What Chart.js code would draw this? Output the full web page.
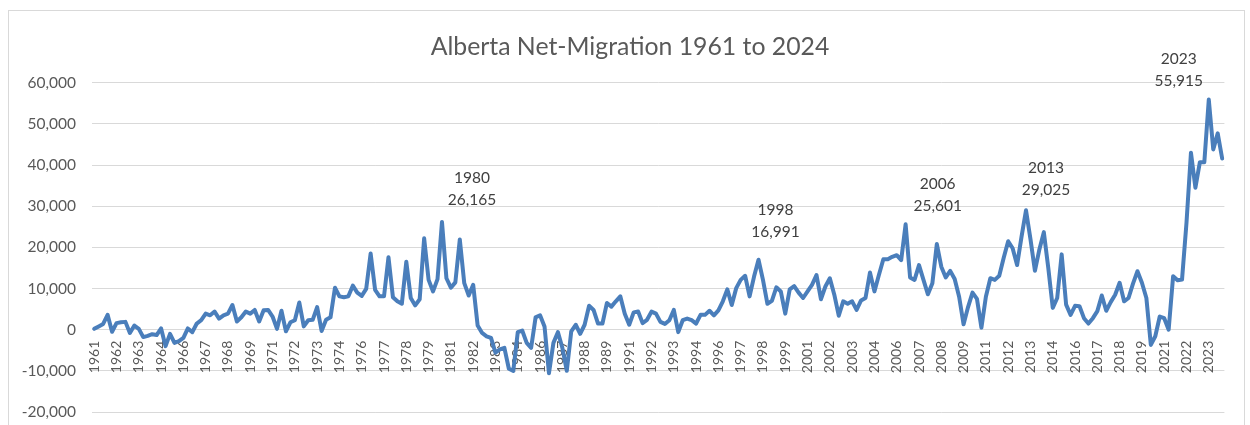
<!DOCTYPE html>
<html>
<head>
<meta charset="utf-8">
<script src="https://cdn.jsdelivr.net/npm/chart.js@4.4.1/dist/chart.umd.min.js"></script>
<style>
  html, body { margin: 0; padding: 0; background: #ffffff; }
  #wrap { width: 1250px; height: 425px; position: relative; }
  canvas { display: block; }
</style>
</head>
<body>
<div id="wrap"><canvas id="c" width="1250" height="425"></canvas></div>
<script>
// ---- Data (quarterly net migration, 1961 Q1 .. 2024 Q2) ----
const firstYear = 1961;
const netMigration = [
  200, 800, 1400, 3600,          // 1961
  -500, 1600, 1800, 1900,        // 1962
  -800, 1000, 200, -1800,        // 1963
  -1500, -1100, -1300, 300,      // 1964
  -4000, -1000, -3200, -2800,    // 1965
  -2000, 300, -600, 1500,        // 1966
  2300, 3900, 3500, 4400,        // 1967
  2700, 3500, 3900, 6000,        // 1968
  2000, 3000, 4400, 3900,        // 1969
  4800, 2000, 4700, 4800,        // 1970
  3200, 200, 4600, -400,         // 1971
  1800, 2300, 6600, 800,         // 1972
  2300, 2400, 5500, -300,        // 1973
  2400, 3000, 10200, 8100,       // 1974
  7900, 8100, 10700, 9000,       // 1975
  8200, 9900, 18500, 9700,       // 1976
  8100, 8100, 17600, 7900,       // 1977
  6900, 6300, 16500, 7700,       // 1978
  5900, 7400, 22200, 12100,      // 1979
  9300, 12300, 26165, 12500,     // 1980
  10200, 11500, 21900, 11300,    // 1981
  8300, 10900, 1000, -800,       // 1982
  -1600, -2000, -5600, -4800,    // 1983
  -4400, -9500, -10000, -600,    // 1984
  -200, -3200, -4400, 3000,      // 1985
  3500, 800, -10600, -3200,      // 1986
  -600, -4400, -10000, -400,     // 1987
  1200, -1000, 1200, 5800,       // 1988
  4800, 1500, 1500, 6500,        // 1989
  5600, 6900, 8100, 3900,        // 1990
  1200, 4200, 4400, 1600,        // 1991
  2400, 4400, 3900, 1900,        // 1992
  1400, 2300, 4800, -600,        // 1993
  2300, 2700, 2300, 1500,        // 1994
  3600, 3600, 4600, 3500,        // 1995
  4700, 6900, 9800, 6000,        // 1996
  10100, 12100, 13100, 8100,     // 1997
  12900, 16991, 12100, 6300,     // 1998
  7000, 10300, 9300, 3900,       // 1999
  9800, 10600, 9000, 7700,       // 2000
  9300, 10900, 13300, 7400,      // 2001
  10500, 12500, 8500, 3400,      // 2002
  6900, 6300, 6900, 4800,        // 2003
  7100, 7700, 13900, 9300,       // 2004
  13300, 17100, 17100, 17700,    // 2005
  18100, 16900, 25601, 12700,    // 2006
  12100, 15700, 12100, 8600,     // 2007
  11300, 20800, 15300, 12700,    // 2008
  14300, 12300, 8000, 1300,      // 2009
  5500, 9000, 7500, 500,         // 2010
  8000, 12500, 12100, 13100,     // 2011
  17500, 21500, 19800, 15700,    // 2012
  22600, 29025, 22000, 14300,    // 2013
  19500, 23700, 15000, 5300,     // 2014
  7700, 18300, 6100, 3600,       // 2015
  5800, 5700, 2800, 1500,        // 2016
  2800, 4500, 8300, 4600,        // 2017
  6700, 8500, 11400, 6900,       // 2018
  7700, 11200, 14200, 11400,     // 2019
  7700, -3700, -1600, 3200,      // 2020
  2800, 0, 13000, 12000,         // 2021
  12200, 26000, 43000, 34500,    // 2022
  40700, 40700, 55915, 43800,    // 2023
  47700, 41600                   // 2024
];
// category labels: the year of each quarter
const categories = netMigration.map((_, i) => String(firstYear + Math.floor(i / 4)));
// highlighted peaks (category index)
const peakIndices = [78, 149, 182, 209, 250];
const titleText = 'Alberta Net-Migration 1961 to 2024';
const yTicksMin = -20000, yTicksMax = 60000, yTickStep = 10000;
const xLabelEvery = 5;

const fmt = v => Number(v).toLocaleString('en-US');

const framePlugin = {
  id: 'frame',
  beforeDraw(chart) {
    const c = chart.ctx;
    c.save();
    c.fillStyle = '#ffffff';
    c.fillRect(0, 0, chart.width, chart.height);
    c.strokeStyle = '#d9d9d9';
    c.lineWidth = 1;
    c.strokeRect(8.5, 10.5, 1236, 430);
    c.restore();
  }
};

const peakNotesPlugin = {
  id: 'peakNotes',
  afterDatasetsDraw(chart, args, opts) {
    const c = chart.ctx;
    const xs = chart.scales.x, ys = chart.scales.y;
    c.save();
    c.font = opts.font;
    c.fillStyle = opts.color;
    c.textAlign = 'center';
    c.textBaseline = 'middle';
    peakIndices.forEach((idx, k) => {
      const v = netMigration[idx];
      const off = opts.offsets[k];
      const px = xs.getPixelForValue(idx) + off[0];
      const py = ys.getPixelForValue(v) + off[1];
      c.fillText(categories[idx], px, py - opts.lineGap);
      c.fillText(fmt(v), px, py);
    });
    c.restore();
  }
};

function draw() {
  new Chart(document.getElementById('c'), {
    type: 'line',
    data: {
      labels: categories,
      datasets: [{
        data: netMigration,
        borderColor: '#4A7EBB',
        borderWidth: 4,
        pointRadius: 0,
        tension: 0,
        fill: false,
        borderJoinStyle: 'round',
        borderCapStyle: 'round'
      }]
    },
    options: {
      responsive: false,
      animation: false,
      devicePixelRatio: 1,
      layout: { padding: { left: 10, right: 0, top: 0, bottom: 13 } },
      plugins: {
        legend: { display: false },
        tooltip: { enabled: false },
        title: {
          display: true,
          text: titleText,
          color: '#595959',
          font: { family: 'Lato', size: 24.8, weight: 'normal', lineHeight: 1.2 },
          padding: { top: 32, bottom: 21 }
        },
        peakNotes: {
          font: '15.5px Lato',
          color: '#404040',
          lineGap: 22,
          offsets: [[30, -22], [17, -28], [32, -18], [20, -20], [-30, -18.5]]
        }
      },
      scales: {
        x: {
          type: 'category',
          offset: true,
          position: { y: 0 },
          grid: { display: false, drawTicks: false },
          border: { display: false },
          ticks: {
            autoSkip: false,
            minRotation: 90,
            maxRotation: 90,
            padding: 11,
            color: '#595959',
            font: { family: 'Lato', size: 14 },
            callback: function (v, i) { return i % xLabelEvery === 0 ? this.getLabelForValue(v) : ''; }
          }
        },
        y: {
          min: yTicksMin,
          max: yTicksMax,
          afterFit: s => { s.width = 82; s.paddingTop = 0; s.paddingBottom = 0; },
          grid: { color: '#d9d9d9', lineWidth: 1, drawTicks: false },
          border: { display: false },
          ticks: {
            stepSize: yTickStep,
            padding: 16,
            color: '#595959',
            font: { family: 'Lato', size: 15.5 },
            callback: v => fmt(v)
          }
        },
        yRight: {
          position: 'right',
          min: yTicksMin,
          max: yTicksMax,
          afterFit: s => { s.width = 17; s.paddingTop = 0; s.paddingBottom = 0; },
          grid: { display: false, drawTicks: false },
          border: { display: false },
          ticks: { display: false }
        }
      }
    },
    plugins: [framePlugin, peakNotesPlugin]
  });
}

const fontLoads = document.fonts ? Promise.all([
  document.fonts.load('24px Lato'), document.fonts.load('15px Lato')
]).catch(() => {}) : Promise.resolve();
fontLoads.then(draw, draw);
</script>
</body>
</html>
